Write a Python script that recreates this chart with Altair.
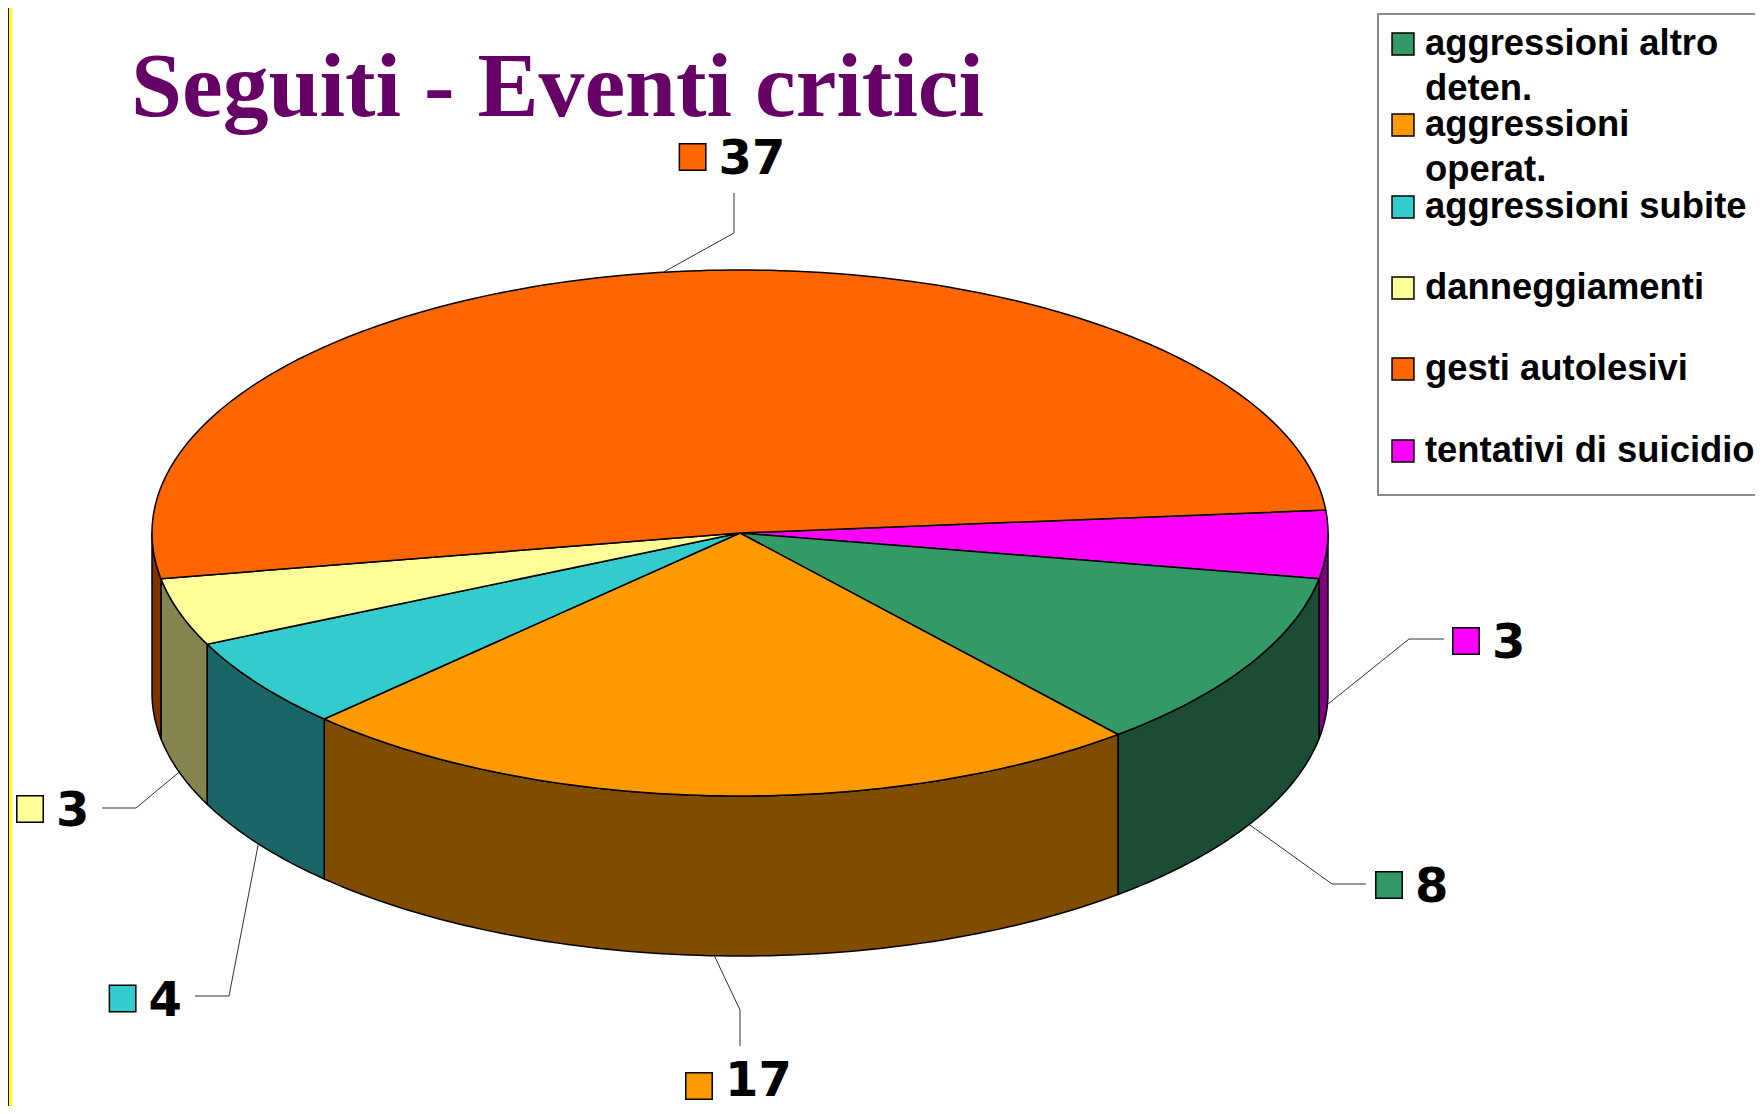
import math
import altair as alt
import pandas as pd

# ---- chart values ----
categories = ["tentativi di suicidio", "aggressioni altro deten.", "aggressioni operat.",
              "aggressioni subite", "danneggiamenti", "gesti autolesivi"]
values = [3, 8, 17, 4, 3, 37]
top_colors = ["#FF00FF", "#339966", "#FF9900", "#33CCCC", "#FFFF99", "#FF6600"]
side_colors = ["#800080", "#1A4D33", "#804D00", "#1A6666", "#85844F", "#803300"]
legend_order = ["aggressioni altro deten.", "aggressioni operat.", "aggressioni subite",
                "danneggiamenti", "gesti autolesivi", "tentativi di suicidio"]
legend_labels = ["aggressioni altro\ndeten.", "aggressioni\noperat.", "aggressioni subite",
                 "danneggiamenti", "gesti autolesivi", "tentativi di suicidio"]
title_text = "Seguiti - Eventi critici"

# ---- layout (reference pixels, page margin removed below) ----
W, H = 1747, 1098
M = 8
CX, CY, RX, RY, DEPTH = 740, 533, 588, 263, 160
START = -5.0
marker_pos = [(1466, 641), (1389, 885), (699, 1086), (122.6, 998.5), (30, 809), (692.6, 157)]
text_y = [644, 888, 1082, 1001.5, 812, 160]
elbows = [[(1409, 639), (1444, 639)], [(1332, 884), (1366, 884)], [(740, 1010), (740, 1046)],
          [(229, 996), (195, 996)], [(136, 808), (102, 808)], [(734, 233), (734, 193)]]
legend_y = [44, 125, 207, 288, 369, 451]


def pt(t, z=0.0):
    a = math.radians(t)
    return CX + RX * math.cos(a) - M, CY + RY * math.sin(a) + z - M


def arc(a, b, z=0.0):
    n = max(2, int(abs(b - a)) + 1)
    return [pt(a + (b - a) * i / (n - 1), z) for i in range(n)]


total = sum(values)
top_rows, side_rows, lead_rows = [], [], []
t = START
for cat, v, mp, el in zip(categories, values, marker_pos, elbows):
    a, b = t, t + 360.0 * v / total
    t = b
    poly = [(CX - M, CY - M)] + arc(a, b) + [(CX - M, CY - M)]
    top_rows += [dict(cat=cat, i=i, x=x, y=y) for i, (x, y) in enumerate(poly)]
    s0, s1 = max(a, 0.0), min(b, 180.0)
    if s1 > s0:
        edge = arc(s0, s1)
        lower = arc(s0, s1, DEPTH)
        ring = edge + lower[::-1] + edge[:1]
        side_rows += [dict(cat=cat, i=i, x=x, y=y) for i, (x, y) in enumerate(ring)]
    mid = (a + b) / 2
    mid_norm = mid % 360
    start = pt(mid, DEPTH if 0 <= mid_norm <= 180 else 0)
    path = [start] + [(x - M, y - M) for x, y in el]
    lead_rows += [dict(cat=cat, i=i, x=x, y=y) for i, (x, y) in enumerate(path)]

x_s = alt.Scale(domain=[0, W], range=[0, W], nice=False, zero=False)
y_s = alt.Scale(domain=[0, H], range=[0, H], nice=False, zero=False)
X = alt.X("x:Q", scale=x_s, axis=None)
Y = alt.Y("y:Q", scale=y_s, axis=None)
fill_top = alt.Fill("cat:N", scale=alt.Scale(domain=categories, range=top_colors), legend=None)
fill_side = alt.Fill("cat:N", scale=alt.Scale(domain=categories, range=side_colors), legend=None)

side = alt.Chart(pd.DataFrame(side_rows)).mark_line(stroke="black", strokeWidth=1.5, strokeJoin="round").encode(
    x=X, y=Y, fill=fill_side, detail="cat:N", order="i:Q")
top = alt.Chart(pd.DataFrame(top_rows)).mark_line(stroke="black", strokeWidth=1.5, strokeJoin="round").encode(
    x=X, y=Y, fill=fill_top, detail="cat:N", order="i:Q")
lead = alt.Chart(pd.DataFrame(lead_rows)).mark_line(stroke="#333333", strokeWidth=1).encode(
    x=X, y=Y, detail="cat:N", order="i:Q")

marker_df = pd.DataFrame(dict(cat=categories, value=values,
                              x=[p[0] - M for p in marker_pos], y=[p[1] - M for p in marker_pos],
                              tx=[p[0] - M + 26 for p in marker_pos],
                              ty=[v - M for v in text_y]))
markers = alt.Chart(marker_df).mark_square(size=700, opacity=1, stroke="black", strokeWidth=1.5).encode(
    x=X, y=Y, fill=fill_top)
val_text = alt.Chart(marker_df).mark_text(font="DejaVu Sans", fontWeight="bold", fontSize=48, align="left",
                                          baseline="middle", color="black").encode(
    x=alt.X("tx:Q", scale=x_s, axis=None),
    y=alt.Y("ty:Q", scale=y_s, axis=None), text="value:Q")

legend_df = pd.DataFrame(dict(cat=legend_order, label=legend_labels,
                              x=[1403 - M] * 6, tx=[1425 - M] * 6,
                              y=[v - M for v in legend_y]))
box = alt.Chart(pd.DataFrame(dict(x=[1378 - M], x2=[W + 4], y=[14 - M], y2=[495 - M]))).mark_rect(
    fill="white", stroke="#666666", strokeWidth=1.5, clip=True).encode(
    x=X, x2="x2:Q", y=Y, y2="y2:Q")
leg_mark = alt.Chart(legend_df).mark_square(size=480, opacity=1, stroke="black", strokeWidth=1.5).encode(
    x=X, y=Y, fill=fill_top)
leg_text = alt.Chart(legend_df).mark_text(font="Liberation Sans", fontWeight="bold", fontSize=36.4, align="left",
                                          baseline="middle", lineBreak="\n", lineHeight=45,
                                          color="black").encode(
    x=alt.X("tx:Q", scale=x_s, axis=None), y=Y, text="label:N")

title = alt.Chart(pd.DataFrame(dict(label=[title_text], x=[131 - M], y=[116 - M]))).mark_text(
    font="Liberation Serif", fontWeight="bold", fontSize=91.7, align="left", baseline="alphabetic",
    color="#660066").encode(x=X, y=Y, text="label:N")

strip = alt.Chart(pd.DataFrame(dict(x=[0, 1], x2=[1, 4], y=[0, 0], y2=[H, H], c=["#330033", "#FFFF00"]))).mark_rect().encode(
    x=X, x2="x2:Q", y=Y, y2="y2:Q", color=alt.Color("c:N", scale=None))

chart = alt.layer(strip, side, top, lead, markers, val_text, box, leg_mark, leg_text, title).resolve_scale(
    fill="independent"
).properties(width=W, height=H, padding=0, autosize=alt.AutoSizeParams(type="none")).configure_view(stroke=None)

chart.save("out.html", embed_options={"renderer": "svg", "actions": False})
